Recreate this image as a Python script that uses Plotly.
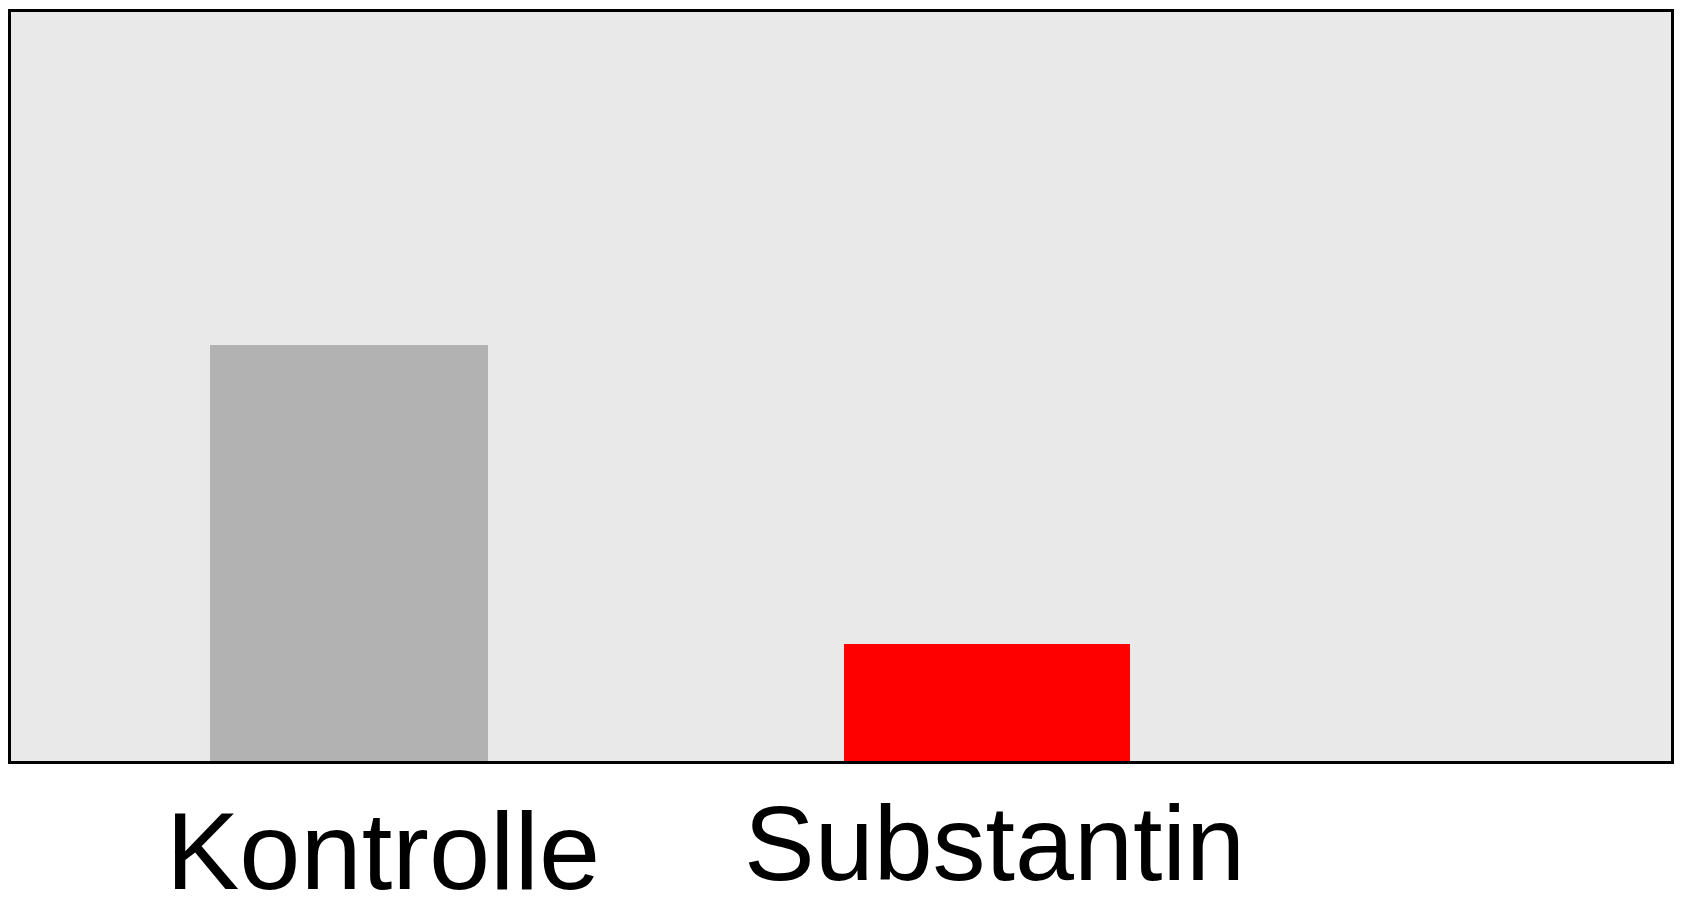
import plotly.graph_objects as go

categories = ["Kontrolle", "Substantin"]
values = [100, 28]
colors = ["#b2b2b2", "#ff0000"]
positions = [1, 2]
bar_widths = [0.437, 0.448]

fig = go.Figure()
fig.add_trace(go.Bar(
    x=positions, y=values, width=bar_widths,
    marker=dict(color=colors, line=dict(width=0)),
    showlegend=False, hoverinfo="skip",
))

label_sizes = [110, 106]
label_xshift = [34, 8]
label_yshift = [-89, -82]
for pos, name, sz, xs, ys in zip(positions, categories, label_sizes, label_xshift, label_yshift):
    fig.add_annotation(
        x=pos, xref="x", y=0, yref="paper", text=name, showarrow=False,
        xanchor="center", yanchor="middle", xshift=xs, yshift=ys,
        font=dict(family="Liberation Sans, Arial, sans-serif", size=sz, color="black"),
    )

fig.update_layout(
    width=1683, height=899,
    margin=dict(l=11, r=9, t=9, b=138),
    paper_bgcolor="white", plot_bgcolor="#e9e9e9",
    bargap=0,
)
fig.update_xaxes(range=[0.470, 3.073], showticklabels=False, ticks="", showgrid=False,
                 zeroline=False, showline=True, linecolor="black", linewidth=3,
                 mirror=True, layer="below traces")
fig.update_yaxes(range=[0, 180], showticklabels=False, ticks="", showgrid=False,
                 zeroline=False, showline=True, linecolor="black", linewidth=3,
                 mirror=True)

fig.write_html("out.html", config={"displayModeBar": False},
               post_script="document.body.style.margin='0';document.body.style.overflow='hidden';")
